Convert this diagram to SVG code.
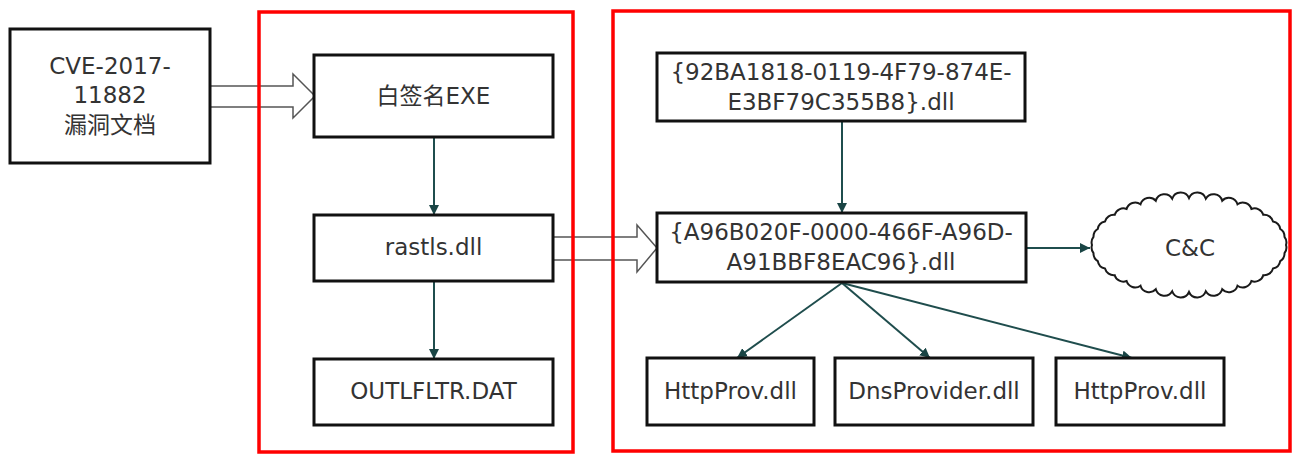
<svg xmlns="http://www.w3.org/2000/svg" width="1301" height="454" viewBox="0 0 1301 454">
  <defs>
    <style>
      .box { fill: #ffffff; stroke: #111111; stroke-width: 3; }
      .frame { fill: none; stroke: #ff0000; stroke-width: 3.5; }
      .txt { font-family: "DejaVu Sans", "Noto Sans CJK SC", sans-serif; font-size: 23px; fill: #333333; text-anchor: middle; }
      .conn { fill: none; stroke: #1f4d4d; stroke-width: 2; marker-end: url(#ah); }
      .hollow { fill: #ffffff; stroke: #555555; stroke-width: 1.5; stroke-linejoin: miter; }
      .cloud { fill: #ffffff; stroke: #1a1a1a; stroke-width: 2; }
    </style>
    <marker id="ah" viewBox="0 0 10 10" refX="10" refY="5" markerWidth="10" markerHeight="10" markerUnits="userSpaceOnUse" orient="auto">
      <path d="M0,0 L10,5 L0,10 Z" fill="#1a4545"/>
    </marker>
  </defs>
  <rect width="1301" height="454" fill="#ffffff"/>

  <g id="connectors">
    <polygon class="hollow" points="210,86 293,86 293,74 315,96 293,118 293,107 210,107"/>
    <polygon class="hollow" points="553,237 637,237 637,225 657,248 637,272 637,260 553,260"/>
    <path class="conn" d="M434,137 L434,215"/>
    <path class="conn" d="M434,281 L434,359"/>
    <path class="conn" d="M842,122 L842,213"/>
    <path class="conn" d="M1026,248 L1090,248"/>
    <path class="conn" d="M842,283 L737,358"/>
    <path class="conn" d="M842,283 L930,358"/>
    <path class="conn" d="M842,283 L1132,358"/>
  </g>

  <g id="cve">
    <rect class="box" x="10" y="29" width="200" height="134"/>
    <text class="txt" x="110" y="74" font-size="24">CVE-2017-</text>
    <text class="txt" x="110" y="103" font-size="24">11882</text>
    <text class="txt" x="110" y="133" font-size="24">漏洞文档</text>
  </g>

  <g id="exe">
    <rect class="box" x="314" y="55" width="239" height="82"/>
    <text class="txt" x="433.5" y="104">白签名EXE</text>
  </g>

  <g id="rastls">
    <rect class="box" x="314" y="215" width="239" height="66"/>
    <text class="txt" x="433.5" y="255">rastls.dll</text>
  </g>

  <g id="outlfltr">
    <rect class="box" x="314" y="359" width="239" height="66"/>
    <text class="txt" x="433.5" y="399">OUTLFLTR.DAT</text>
  </g>

  <g id="guid1">
    <rect class="box" x="657" y="53" width="368" height="68"/>
    <text class="txt" x="841" y="80">{92BA1818-0119-4F79-874E-</text>
    <text class="txt" x="841" y="110">E3BF79C355B8}.dll</text>
  </g>

  <g id="guid2">
    <rect class="box" x="657" y="213" width="369" height="69"/>
    <text class="txt" x="841" y="240">{A96B020F-0000-466F-A96D-</text>
    <text class="txt" x="841" y="270">A91BBF8EAC96}.dll</text>
  </g>

  <g id="cc">
    <path class="cloud" d="M1286,245 A9,9 0 0 1 1284.5,253.2 A9,9 0 0 1 1280.2,261.1 A9,9 0 0 1 1273,268.5 A9,9 0 0 1 1263.3,275.2 A9,9 0 0 1 1251.4,281 A9,9 0 0 1 1237.5,285.7 A9,9 0 0 1 1222.2,289.2 A9,9 0 0 1 1205.8,291.3 A9,9 0 0 1 1189,292 A9,9 0 0 1 1172.2,291.3 A9,9 0 0 1 1155.8,289.2 A9,9 0 0 1 1140.5,285.7 A9,9 0 0 1 1126.6,281 A9,9 0 0 1 1114.7,275.2 A9,9 0 0 1 1105,268.5 A9,9 0 0 1 1097.8,261.1 A9,9 0 0 1 1093.5,253.2 A9,9 0 0 1 1092,245 A9,9 0 0 1 1093.5,236.8 A9,9 0 0 1 1097.8,228.9 A9,9 0 0 1 1105,221.5 A9,9 0 0 1 1114.7,214.8 A9,9 0 0 1 1126.6,209 A9,9 0 0 1 1140.5,204.3 A9,9 0 0 1 1155.8,200.8 A9,9 0 0 1 1172.2,198.7 A9,9 0 0 1 1189,198 A9,9 0 0 1 1205.8,198.7 A9,9 0 0 1 1222.2,200.8 A9,9 0 0 1 1237.5,204.3 A9,9 0 0 1 1251.4,209 A9,9 0 0 1 1263.3,214.8 A9,9 0 0 1 1273,221.5 A9,9 0 0 1 1280.2,228.9 A9,9 0 0 1 1284.5,236.8 A9,9 0 0 1 1286,245 Z"/>
    <text class="txt" x="1190" y="256" font-size="26">C&amp;C</text>
  </g>

  <g id="httpprov1">
    <rect class="box" x="647" y="358" width="167" height="67"/>
    <text class="txt" x="730.5" y="399">HttpProv.dll</text>
  </g>

  <g id="dnsprovider">
    <rect class="box" x="835" y="358" width="198" height="67"/>
    <text class="txt" x="934" y="399">DnsProvider.dll</text>
  </g>

  <g id="httpprov2">
    <rect class="box" x="1056" y="358" width="168" height="67"/>
    <text class="txt" x="1140" y="399">HttpProv.dll</text>
  </g>

  <g id="frames">
    <rect class="frame" x="259" y="12" width="314" height="440"/>
    <rect class="frame" x="613" y="11" width="677" height="440"/>
  </g>
</svg>
